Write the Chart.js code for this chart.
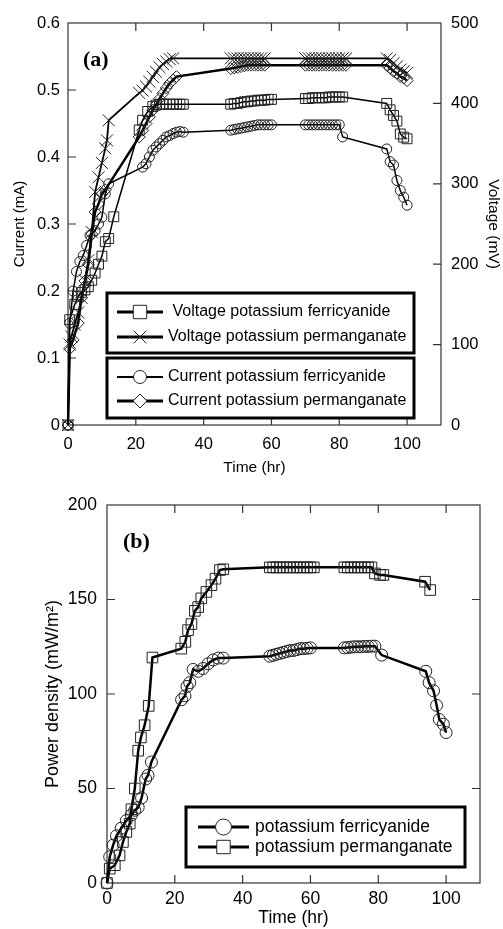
<!DOCTYPE html>
<html>
<head>
<meta charset="utf-8">
<script src="https://cdn.jsdelivr.net/npm/chart.js@4.4.1/dist/chart.umd.min.js"></script>
<style>
  body { margin: 0; background: #fff; }
  #boxA { position: absolute; left: 0; top: 0; width: 503px; height: 480px; }
  #boxB { position: absolute; left: 0; top: 480px; width: 503px; height: 449px; }
</style>
</head>
<body>
<div id="boxA"><canvas id="chartA"></canvas></div>
<div id="boxB"><canvas id="chartB"></canvas></div>
<script>
// ---- panel (a): voltage (mV, right axis) and current (mA, left axis) vs time (hr)
const tVoltFerri = [0, 0.5, 2, 3, 4, 5, 6, 7, 8, 9, 10, 11, 12, 13.5,
  21, 22, 23.5, 25, 26, 27, 28, 29, 30, 31, 32, 33, 34,
  48, 49, 50, 51, 52, 53, 54, 55, 56, 57, 58, 59, 60,
  70, 71, 72, 73, 74, 75, 76, 77, 78, 79, 80, 81,
  94, 95, 96, 97, 98, 99, 100];
const voltFerri = [0, 131, 150, 160, 165, 168, 172, 180, 189, 200, 210, 228, 232, 259,
  367, 379, 390, 396, 398, 399, 399, 399, 399, 399, 399, 399, 399,
  399, 400, 400, 401, 402, 402, 403, 403, 404, 404, 404, 405, 405,
  406, 406, 407, 407, 407, 407, 407, 408, 408, 408, 408, 408,
  400, 392, 385, 378, 362, 358, 356];

const tVoltPerm = [0, 0.5, 1, 2, 3, 4, 5, 6, 7, 8, 9, 10, 11, 11.5, 12,
  21, 22, 23, 24, 25, 26, 27, 28, 29, 30, 31,
  48, 49, 50, 51, 52, 53, 54, 55, 56, 57, 58,
  70, 71, 72, 73, 74, 75, 76, 77, 78, 79, 80, 81, 82,
  94, 95, 96, 97, 98, 99, 100];
const voltPerm = [0, 100, 110, 125, 140, 158, 180, 205, 240, 290, 308, 326, 344, 354, 379,
  413, 416, 421, 427, 433, 439, 445, 449, 452, 455, 456,
  456, 456, 456, 456, 456, 456, 456, 456, 456, 456, 456,
  456, 456, 456, 456, 456, 456, 456, 456, 456, 456, 456, 456, 456,
  456, 454, 450, 446, 442, 440, 438];

const tCurFerri = [0, 0.5, 1.5, 2.5, 3.5, 4.5, 5.5, 6.5, 8, 9, 10, 11, 12,
  22, 23, 24, 25, 26, 27, 28, 29, 30, 31, 32, 33, 34,
  48, 49, 50, 51, 52, 53, 54, 55, 56, 57, 58, 59, 60,
  70, 71, 72, 73, 74, 75, 76, 77, 78, 79, 80, 81,
  94, 95, 96, 97, 98, 99, 100];
const curFerri = [0, 0.152, 0.2, 0.229, 0.244, 0.253, 0.268, 0.283, 0.29, 0.3, 0.31, 0.345, 0.36,
  0.385, 0.39, 0.4, 0.41, 0.415, 0.42, 0.425, 0.43, 0.432, 0.435, 0.437, 0.438, 0.437,
  0.44, 0.441, 0.442, 0.443, 0.444, 0.445, 0.446, 0.447, 0.448, 0.448, 0.448, 0.448, 0.448,
  0.448, 0.448, 0.448, 0.448, 0.448, 0.448, 0.448, 0.448, 0.448, 0.448, 0.448, 0.43,
  0.412, 0.393, 0.388, 0.365, 0.35, 0.34, 0.328];

const tCurPerm = [0, 0.5, 1.5, 3, 4, 5, 6, 7, 8, 9, 10, 11,
  21, 22, 23, 24, 25, 26, 27, 28, 29, 30, 31, 32,
  48, 49, 50, 51, 52, 53, 54, 55, 56, 57, 58,
  70, 71, 72, 73, 74, 75, 76, 77, 78, 79, 80, 81, 82,
  94, 95, 96, 97, 98, 99, 100];
const curPerm = [0, 0.114, 0.127, 0.152, 0.19, 0.215, 0.24, 0.285, 0.318, 0.33, 0.345, 0.351,
  0.43, 0.44, 0.45, 0.46, 0.47, 0.478, 0.487, 0.495, 0.503, 0.51, 0.515, 0.52,
  0.532, 0.533, 0.534, 0.535, 0.536, 0.537, 0.537, 0.537, 0.537, 0.537, 0.537,
  0.537, 0.537, 0.537, 0.537, 0.537, 0.537, 0.537, 0.537, 0.537, 0.537, 0.537, 0.537, 0.537,
  0.537, 0.533, 0.528, 0.525, 0.52, 0.518, 0.514];

// ---- panel (b): power density (mW/m2) vs time (hr)
const tPowFerri = [0, 0.8, 1.8, 2.8, 4.2, 5.7, 7.2, 8.2, 9.2, 10.2, 11.4, 12.1, 13.1,
  22, 23, 23.6, 24.4, 25.4, 26.9, 28.3, 29.8, 31.3, 32.8, 34.3,
  48, 49, 50, 51, 52, 53, 54, 55, 56, 57, 58, 59, 60,
  70, 71, 72, 73, 74, 75, 76, 77, 78, 79, 81,
  94, 95, 96.3, 97.2, 98, 99.2, 100];
const powFerri = [0, 13.8, 20, 25, 29, 33, 36, 38.5, 40, 45, 55, 57, 64,
  97, 99, 104, 106, 113, 112, 113.5, 116, 118, 119, 119,
  120, 120.5, 121, 121.5, 122, 122.5, 123, 123, 123.5, 124, 124, 124.2, 124.4,
  124.4, 124.6, 124.8, 125, 125, 125, 125.2, 125.2, 125.3, 125.3, 120.6,
  112, 106, 101.7, 94, 86.5, 84, 79.6];

const tPowPerm = [0, 0.8, 2.3, 3.7, 4.7, 5.7, 6.7, 7.2, 8.2, 9.2, 10, 11.1, 12.3, 13.4,
  21.9, 23.1, 23.9, 24.9, 25.9, 26.9, 27.8, 29.3, 30.8, 32, 33.3, 34.3,
  48, 49, 50, 51, 52, 53, 54, 55, 56, 57, 58, 59, 60, 61,
  70, 71, 72, 73, 74, 75, 76, 77, 78, 79, 80.5, 81.5,
  93.8, 95.3];
const powPerm = [0, 7.6, 9.4, 14.6, 21.7, 27, 31.4, 39, 50, 70, 77, 83.5, 93.7, 119.3,
  124, 127.6, 133.8, 137, 144, 146, 150.6, 154, 157.6, 161, 165.6, 166,
  167, 167, 167, 167, 167, 167, 167, 167, 167, 167, 167, 167, 167, 167,
  167, 167, 167, 167, 167, 167, 167, 167, 167, 163.8, 163, 163,
  159.4, 155];

const xTickValues = [0, 20, 40, 60, 80, 100];
const xInnerTicks = [20, 40, 60, 80, 100];

function pairs(xs, ys) {
  return xs.map((x, i) => ({ x: x, y: ys[i] }));
}

Chart.defaults.font.family = "'Liberation Sans', Arial, sans-serif";
Chart.defaults.font.size = 15;
Chart.defaults.color = '#000';

function series(label, xs, ys, style, r, lw, axis) {
  return {
    label: label,
    data: pairs(xs, ys),
    yAxisID: axis,
    borderColor: '#000',
    borderWidth: lw,
    backgroundColor: 'transparent',
    pointStyle: style,
    pointRadius: r,
    pointHoverRadius: r,
    pointBorderColor: '#222',
    pointBackgroundColor: 'transparent',
    pointBorderWidth: 1,
    tension: 0,
    clip: false
  };
}

// frame + inward ticks
const framePlugin = {
  id: 'frame',
  beforeDatasetsDraw(chart, args, opts) {
    const { ctx, chartArea: a } = chart;
    ctx.save();
    ctx.strokeStyle = '#333';
    ctx.lineWidth = 1.2;
    ctx.strokeRect(a.left, a.top, a.right - a.left, a.bottom - a.top);
    const len = 8;
    ctx.beginPath();
    opts.x.forEach(v => {
      const px = chart.scales.x.getPixelForValue(v);
      ctx.moveTo(px, a.bottom); ctx.lineTo(px, a.bottom - len);
      ctx.moveTo(px, a.top); ctx.lineTo(px, a.top + len);
    });
    opts.left.forEach(v => {
      const py = chart.scales.y.getPixelForValue(v);
      ctx.moveTo(a.left, py); ctx.lineTo(a.left + len, py);
    });
    opts.right.forEach(v => {
      const py = chart.scales[opts.rightAxis].getPixelForValue(v);
      ctx.moveTo(a.right, py); ctx.lineTo(a.right - len, py);
    });
    ctx.stroke();
    ctx.restore();
  }
};

function drawMarker(ctx, style, x, y, r) {
  ctx.beginPath();
  if (style === 'rect') {
    const s = r * Math.SQRT1_2;
    ctx.rect(x - s, y - s, 2 * s, 2 * s);
  } else if (style === 'circle') {
    ctx.arc(x, y, r, 0, Math.PI * 2);
  } else if (style === 'rectRot') {
    ctx.moveTo(x - r, y); ctx.lineTo(x, y - r); ctx.lineTo(x + r, y); ctx.lineTo(x, y + r);
    ctx.closePath();
  } else if (style === 'crossRot') {
    const s = r * Math.SQRT1_2;
    ctx.moveTo(x - s, y - s); ctx.lineTo(x + s, y + s);
    ctx.moveTo(x + s, y - s); ctx.lineTo(x - s, y + s);
  }
  if (style !== 'crossRot') ctx.fill();
  ctx.stroke();
}

// boxed legends and panel letter
const legendPlugin = {
  id: 'boxLegend',
  afterDraw(chart, args, opts) {
    const ctx = chart.ctx;
    ctx.save();
    opts.boxes.forEach(b => {
      ctx.fillStyle = '#fff';
      ctx.fillRect(b.x, b.y, b.w, b.h);
      ctx.strokeStyle = '#000';
      ctx.lineWidth = 3;
      ctx.strokeRect(b.x, b.y, b.w, b.h);
      b.items.forEach(it => {
        const ds = chart.data.datasets[it.ds];
        ctx.strokeStyle = '#000';
        ctx.lineWidth = it.lw;
        ctx.beginPath();
        ctx.moveTo(b.lineX0, it.y); ctx.lineTo(b.lineX1, it.y);
        ctx.stroke();
        ctx.fillStyle = '#fff';
        ctx.strokeStyle = '#222';
        ctx.lineWidth = 1;
        drawMarker(ctx, ds.pointStyle, (b.lineX0 + b.lineX1) / 2, it.y, it.r);
        ctx.fillStyle = '#000';
        ctx.font = opts.fontSize + "px 'Liberation Sans', Arial, sans-serif";
        ctx.textBaseline = 'middle';
        ctx.textAlign = 'left';
        ctx.fillText(ds.label, b.textX, it.y);
      });
    });
    ctx.font = "bold 22px 'Liberation Serif', 'Times New Roman', serif";
    ctx.fillStyle = '#000';
    ctx.textBaseline = 'middle';
    ctx.fillText(opts.letter.text, opts.letter.x, opts.letter.y);
    ctx.restore();
  }
};

function xScale(h, pad, titlePad, tickSize, titleSize) {
  return {
    type: 'linear', min: 0, max: 110,
    afterBuildTicks: s => { s.ticks = xTickValues.map(v => ({ value: v })); },
    afterFit: s => { s.height = h; },
    ticks: { padding: pad, maxRotation: 0, autoSkip: false, font: { size: tickSize } },
    grid: { display: false, drawTicks: false },
    border: { display: false },
    title: { display: true, text: 'Time (hr)', font: { size: titleSize }, padding: { top: 0, bottom: titlePad } }
  };
}

new Chart(document.getElementById('chartA'), {
  type: 'line',
  data: {
    datasets: [
      series(' Voltage potassium ferricyanide', tVoltFerri, voltFerri, 'rect', 7, 1.5, 'y1'),
      series('Voltage potassium permanganate', tVoltPerm, voltPerm, 'crossRot', 8.5, 1.8, 'y1'),
      series('Current potassium ferricyanide', tCurFerri, curFerri, 'circle', 5, 1.5, 'y'),
      series('Current potassium permanganate', tCurPerm, curPerm, 'rectRot', 6, 2.5, 'y')
    ]
  },
  options: {
    responsive: true,
    maintainAspectRatio: false,
    animation: false,
    layout: { padding: { top: 23, left: 0, right: 0, bottom: 0 } },
    scales: {
      x: xScale(55, 10, 3, 16.5, 15.5),
      y: {
        position: 'left', min: 0, max: 0.6,
        afterFit: s => { s.width = 68; },
        ticks: { stepSize: 0.1, padding: 8, font: { size: 16.5 }, callback: v => (v === 0 ? '0' : v.toFixed(1)) },
        grid: { display: false, drawTicks: false },
        border: { display: false },
        title: { display: true, text: 'Current (mA)', font: { size: 15 }, padding: { top: 11, bottom: 0 } }
      },
      y1: {
        position: 'right', min: 0, max: 500,
        afterFit: s => { s.width = 62; },
        ticks: { stepSize: 100, padding: 10, font: { size: 16.5 } },
        grid: { display: false, drawTicks: false },
        border: { display: false },
        title: { display: true, text: 'Voltage (mV)', font: { size: 15.5 }, padding: { top: 0, bottom: 0 } }
      }
    },
    plugins: {
      legend: { display: false },
      tooltip: { enabled: false },
      frame: { x: xInnerTicks, left: [0.1, 0.2, 0.3, 0.4, 0.5], right: [100, 200, 300, 400], rightAxis: 'y1' },
      boxLegend: {
        fontSize: 16,
        letter: { text: '(a)', x: 83, y: 60 },
        boxes: [
          { x: 107, y: 293, w: 307, h: 60, lineX0: 117, lineX1: 163, textX: 168,
            items: [{ ds: 0, y: 312, lw: 3, r: 9.5 }, { ds: 1, y: 337, lw: 3, r: 9 }] },
          { x: 107, y: 358, w: 307, h: 60, lineX0: 117, lineX1: 163, textX: 168,
            items: [{ ds: 2, y: 377, lw: 2, r: 6.5 }, { ds: 3, y: 401, lw: 3, r: 7 }] }
        ]
      }
    }
  },
  plugins: [framePlugin, legendPlugin]
});

new Chart(document.getElementById('chartB'), {
  type: 'line',
  data: {
    datasets: [
      series('potassium ferricyanide', tPowFerri, powFerri, 'circle', 6, 2.5, 'y'),
      series('potassium permanganate', tPowPerm, powPerm, 'rect', 7.5, 2.5, 'y')
    ]
  },
  options: {
    responsive: true,
    maintainAspectRatio: false,
    animation: false,
    layout: { padding: { top: 25, left: 0, right: 23, bottom: 0 } },
    scales: {
      x: xScale(46, 6, 0, 17.5, 17.5),
      y: {
        position: 'left', min: 0, max: 200,
        afterFit: s => { s.width = 107; },
        ticks: { stepSize: 50, padding: 10, font: { size: 17.5 } },
        grid: { display: false, drawTicks: false },
        border: { display: false },
        title: { display: true, text: 'Power density (mW/m\u00B2)', font: { size: 18 }, padding: { top: 42, bottom: 0 } }
      }
    },
    plugins: {
      legend: { display: false },
      tooltip: { enabled: false },
      frame: { x: xInnerTicks, left: [50, 100, 150], right: [50, 100, 150], rightAxis: 'y' },
      boxLegend: {
        fontSize: 17.5,
        letter: { text: '(b)', x: 123, y: 62 },
        boxes: [
          { x: 186, y: 327, w: 279, h: 60, lineX0: 198, lineX1: 249, textX: 255,
            items: [{ ds: 0, y: 347, lw: 3, r: 8 }, { ds: 1, y: 367, lw: 3, r: 9.5 }] }
        ]
      }
    }
  },
  plugins: [framePlugin, legendPlugin]
});
</script>
</body>
</html>
